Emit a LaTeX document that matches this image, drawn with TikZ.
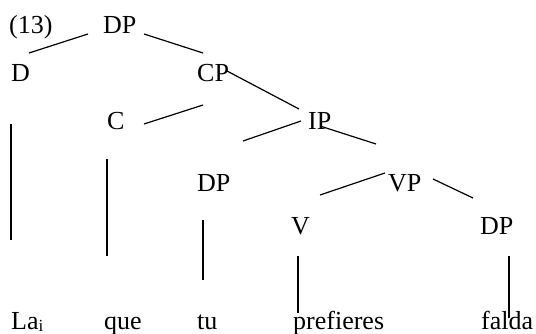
\documentclass[tikz,border=0pt]{standalone}
\usepackage{fontspec}
\setmainfont{Liberation Serif}
\begin{document}
\begin{tikzpicture}[x=1pt,y=-1pt,
  lbl/.style={anchor=base west,inner sep=0pt,font=\fontsize{26}{30}\selectfont},
  branch/.style={line width=1.2pt}]
\useasboundingbox (0,0) rectangle (536,334);
% category labels
\node[lbl] (ex)  at (9,34)   {(13)};
\node[lbl] (dp0) at (103,34) {DP};
\node[lbl] (d)   at (11,82)  {D};
\node[lbl] (cp)  at (197,82) {CP};
\node[lbl] (c)   at (107,130) {C};
\node[lbl] (ip)  at (308,130) {IP};
\node[lbl] (dp1) at (197,192) {DP};
\node[lbl] (vp)  at (388,192) {VP};
\node[lbl] (v)   at (291,235) {V};
\node[lbl] (dp2) at (480,235) {DP};
% words
\node[lbl] (w1) at (11,329)  {La\raisebox{-2.5pt}{\fontsize{17}{20}\selectfont i}};
\node[lbl] (w2) at (104,329) {que};
\node[lbl] (w3) at (197,329) {tu};
\node[lbl] (w4) at (293,329) {prefieres};
\node[lbl] (w5) at (481,329) {falda};
% branch end points
\coordinate (a1) at (29,53);   \coordinate (a2) at (88,34);
\coordinate (b1) at (144,34);  \coordinate (b2) at (203,53);
\coordinate (c1) at (227,71);  \coordinate (c2) at (299,109);
\coordinate (e1) at (144,124); \coordinate (e2) at (203,105);
\coordinate (f1) at (243,141); \coordinate (f2) at (301,121);
\coordinate (g1) at (320,126); \coordinate (g2) at (376,144);
\coordinate (h1) at (320,195); \coordinate (h2) at (385,173);
\coordinate (k1) at (433,179); \coordinate (k2) at (473,198);
\coordinate (l1) at (11,124);  \coordinate (l2) at (11,240);
\coordinate (m1) at (107,159); \coordinate (m2) at (107,256);
\coordinate (n1) at (203,220); \coordinate (n2) at (203,280);
\coordinate (p1) at (298,256); \coordinate (p2) at (298,313);
\coordinate (q1) at (509,256); \coordinate (q2) at (509,318);
% branches
\draw[branch] (a1) -- (a2);
\draw[branch] (b1) -- (b2);
\draw[branch] (c1) -- (c2);
\draw[branch] (e1) -- (e2);
\draw[branch] (f1) -- (f2);
\draw[branch] (g1) -- (g2);
\draw[branch] (h1) -- (h2);
\draw[branch] (k1) -- (k2);
\draw[branch] (l1) -- (l2);
\draw[branch] (m1) -- (m2);
\draw[branch] (n1) -- (n2);
\draw[branch] (p1) -- (p2);
\draw[branch] (q1) -- (q2);
\end{tikzpicture}
\end{document}
